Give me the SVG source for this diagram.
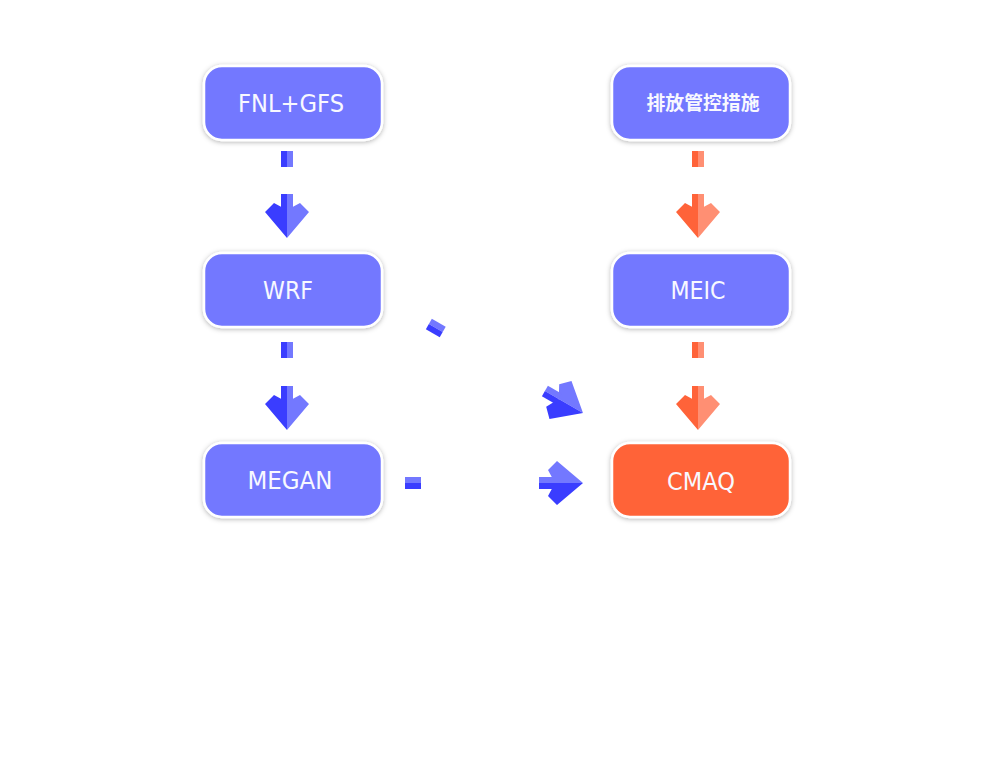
<svg xmlns="http://www.w3.org/2000/svg" width="982" height="767" viewBox="0 0 982 767">
<defs>
<filter id="sh" x="-20%" y="-30%" width="140%" height="160%">
<feDropShadow dx="0" dy="1" stdDeviation="2.5" flood-color="#000" flood-opacity="0.3"/>
</filter>
<g id="headB">
<polygon points="-44,0 -28,0 -35,-13 -26,-22 0,0" fill="#7378FF"/>
<polygon points="-44,0 -28,0 -35,13 -26,22 0,0" fill="#3A3DFF"/>
<rect x="-44" y="-6" width="16" height="6" fill="#7378FF"/>
<rect x="-44" y="0" width="16" height="6" fill="#3A3DFF"/>
</g>
<g id="dashB">
<rect x="0" y="-6" width="16" height="6" fill="#7378FF"/>
<rect x="0" y="0" width="16" height="6" fill="#3A3DFF"/>
</g>
<g id="headO">
<polygon points="-44,0 -28,0 -35,-13 -26,-22 0,0" fill="#FF8F73"/>
<polygon points="-44,0 -28,0 -35,13 -26,22 0,0" fill="#FF6339"/>
<rect x="-44" y="-6" width="16" height="6" fill="#FF8F73"/>
<rect x="-44" y="0" width="16" height="6" fill="#FF6339"/>
</g>
<g id="dashO">
<rect x="0" y="-6" width="16" height="6" fill="#FF8F73"/>
<rect x="0" y="0" width="16" height="6" fill="#FF6339"/>
</g>
</defs>
<style>
.box{stroke:#fff;stroke-width:2.5;filter:url(#sh)}
.b{fill:#7378FF}
.o{fill:#FF6339}
.t{font-family:"DejaVu Sans","Liberation Sans",sans-serif;font-size:24px;fill:#F8F8FF;text-anchor:middle}
.c{font-family:"Noto Sans CJK SC",sans-serif;font-size:19px;font-weight:bold;fill:#F8F8FF;text-anchor:middle}
</style>
<rect width="982" height="767" fill="#fff"/>
<g id="connectors">
<g transform="translate(287,238) rotate(90)"><use href="#headB"/><use href="#dashB" x="-87"/></g>
<g transform="translate(287,430) rotate(90)"><use href="#headB"/><use href="#dashB" x="-88"/></g>
<g transform="translate(698,238) rotate(90)"><use href="#headO"/><use href="#dashO" x="-87"/></g>
<g transform="translate(698,430) rotate(90)"><use href="#headO"/><use href="#dashO" x="-88"/></g>
<g transform="translate(583,483)"><use href="#headB"/><use href="#dashB" x="-178"/></g>
<g transform="translate(583,413) rotate(30)"><use href="#headB"/><use href="#dashB" x="-178"/></g>
</g>
<g id="n-fnl"><rect class="box b" x="204" y="66" width="178" height="74" rx="18"/><text class="t" x="291" y="112" textLength="106" lengthAdjust="spacingAndGlyphs">FNL+GFS</text></g>
<g id="n-emis"><rect class="box b" x="612" y="66" width="178" height="74" rx="18"/><text class="c" x="703" y="110" textLength="113" lengthAdjust="spacingAndGlyphs">排放管控措施</text></g>
<g id="n-wrf"><rect class="box b" x="204" y="253" width="178" height="74" rx="18"/><text class="t" x="288" y="299" textLength="50" lengthAdjust="spacingAndGlyphs">WRF</text></g>
<g id="n-meic"><rect class="box b" x="612" y="253" width="178" height="74" rx="18"/><text class="t" x="698" y="299" textLength="55" lengthAdjust="spacingAndGlyphs">MEIC</text></g>
<g id="n-megan"><rect class="box b" x="204" y="443" width="178" height="74" rx="18"/><text class="t" x="290" y="489" textLength="85" lengthAdjust="spacingAndGlyphs">MEGAN</text></g>
<g id="n-cmaq"><rect class="box o" x="612" y="443" width="178" height="74" rx="18"/><text class="t" x="701" y="490" textLength="68" lengthAdjust="spacingAndGlyphs">CMAQ</text></g>
</svg>
